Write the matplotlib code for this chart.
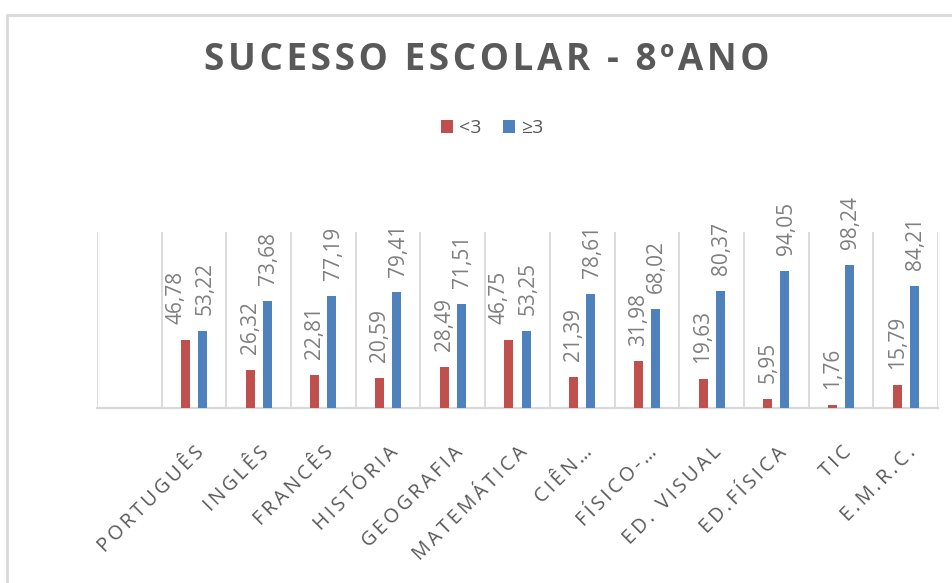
import matplotlib
matplotlib.use("Agg")
import matplotlib.pyplot as plt
import numpy as np
from matplotlib.patches import Rectangle

plt.rcParams['font.family'] = ['Open Sans', 'DejaVu Sans']

categories = ['', 'PORTUGUÊS', 'INGLÊS', 'FRANCÊS', 'HISTÓRIA', 'GEOGRAFIA',
              'MATEMÁTICA', 'CIÊN…', 'FÍSICO-…', 'ED. VISUAL', 'ED.FÍSICA',
              'TIC', 'E.M.R.C.']
below3 = [np.nan, 46.78, 26.32, 22.81, 20.59, 28.49, 46.75, 21.39, 31.98,
          19.63, 5.95, 1.76, 15.79]
above3 = [np.nan, 53.22, 73.68, 77.19, 79.41, 71.51, 53.25, 78.61, 68.02,
          80.37, 94.05, 98.24, 84.21]
series_names = ['<3', '≥3']
title = 'SUCESSO ESCOLAR - 8ºANO'

RED = '#c0504d'
BLUE = '#4f81bd'
GRID = '#d9d9d9'
TXT = '#595959'
LBL = '#7f7f7f'


def spaced(s, sp='\u200a'):
    return sp.join(list(s))


def fmt(v):
    return f'{v:.2f}'.replace('.', ',')


fig = plt.figure(figsize=(9.52, 5.83), dpi=100)
ax = fig.add_axes([97 / 952, 1 - 408 / 583, (938 - 97) / 952, (408 - 232) / 583])

n = len(categories)
x = np.arange(n)
w = 0.14
off = 0.132
b1 = ax.bar(x - off, below3, w, color=RED, label=series_names[0], zorder=3)
b2 = ax.bar(x + off, above3, w, color=BLUE, label=series_names[1], zorder=3)

for i in range(n):
    r, b = below3[i], above3[i]
    if np.isnan(r):
        continue
    close = abs(b - r) < 30
    rdx = -7 if close else 0
    bdx = 1.5 if close else 1
    ax.annotate(fmt(r), (x[i] - off, r), xytext=(rdx, 11.5), textcoords='offset points',
                rotation=90, ha='center', va='bottom', fontsize=15,
                color=LBL, annotation_clip=False)
    ax.annotate(fmt(b), (x[i] + off, b), xytext=(bdx, 11.5), textcoords='offset points',
                rotation=90, ha='center', va='bottom', fontsize=15,
                color=LBL, annotation_clip=False)

ax.set_xlim(-0.5, n - 0.5)
ax.set_ylim(0, 121)
ax.set_yticks([])
for bnd in np.arange(-0.5, n + 0.5, 1.0):
    ax.axvline(bnd, color=GRID, lw=1.3, zorder=1)
for s in ['top', 'right', 'left']:
    ax.spines[s].set_visible(False)
ax.spines['bottom'].set_color(GRID)
ax.spines['bottom'].set_linewidth(1.6)

ax.set_xticks(x)
ax.set_xticklabels([spaced(c, '\u2009') for c in categories], rotation=45,
                   ha='right', rotation_mode='anchor', fontsize=14.2, color=TXT)
ax.tick_params(axis='x', length=0, pad=25)

fig.text(487 / 952, 1 - 60 / 583, spaced(title, '\u200a'), ha='center', va='center',
         fontsize=26.5, fontweight='bold', color=TXT)

leg = fig.legend(handles=[b1, b2], labels=series_names, loc='center',
                 bbox_to_anchor=(492 / 952, 1 - 128 / 583), ncol=2, frameon=False,
                 fontsize=14, handlelength=0.65, handleheight=0.65,
                 handletextpad=0.3, columnspacing=1.1)
for t in leg.get_texts():
    t.set_color(TXT)

fig.patches.append(Rectangle((7 / 952, -0.1), 1.2, (1 - 15 / 583) + 0.1,
                             transform=fig.transFigure, fill=False,
                             edgecolor=GRID, lw=2, zorder=0))

fig.savefig('out.png', dpi=100, facecolor='white')
